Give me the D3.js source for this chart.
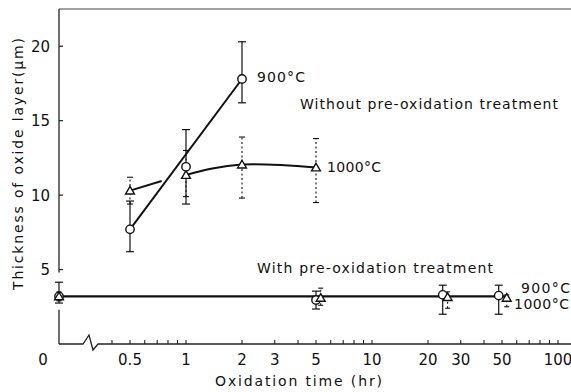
<!DOCTYPE html>
<html><head><meta charset="utf-8">
<script src="https://cdn.jsdelivr.net/npm/d3@7/dist/d3.min.js"></script>
<style>body{margin:0;background:#fff}text{font-family:"DejaVu Sans",sans-serif;fill:#111}</style>
</head><body><svg id="c" width="571" height="392"></svg>
<script>
// ---- data ----
const yTicks = [5, 10, 15, 20];
const xTickLabels = ["0.5", "1", "2", "3", "5", "10", "20", "30", "50", "100"];
const xMinorTicks = [0.4,0.5,0.6,0.7,0.8,0.9,1,2,3,4,5,6,7,8,9,10,20,30,40,50,60,70,80,90,100];

// Without pre-oxidation, 900°C (circles)
const tNo900 = [0.5, 1, 2];
const vNo900 = [7.7, 11.9, 17.8];
const loNo900 = [6.2, 9.4, 16.2];
const hiNo900 = [9.6, 14.4, 20.3];
const fitNo900 = [[0.5, 7.7], [2, 17.8]];

// Without pre-oxidation, 1000°C (triangles)
const tNo1000 = [0.5, 1, 2, 5];
const vNo1000 = [10.3, 11.35, 12.05, 11.85];
const loNo1000 = [9.4, 9.9, 9.8, 9.5];
const hiNo1000 = [11.2, 13.0, 13.9, 13.8];
const seg1No1000 = [[0.5, 10.3], [0.74, 10.95]];
const seg2No1000 = [[1, 11.35], [2, 12.05], [5, 11.85]];

// With pre-oxidation, 900°C (circles)
const tPre900 = [0, 5, 24, 48];
const vPre900 = [3.2, 2.95, 3.3, 3.25];
const loPre900 = [2.75, 2.35, 2.0, 2.0];
const hiPre900 = [4.15, 3.55, 3.95, 3.95];
// With pre-oxidation, 1000°C (triangles)
const tPre1000 = [0, 5.3, 25.5, 53];
const vPre1000 = [3.2, 3.1, 3.15, 3.1];
const loPre1000 = [2.9, 2.6, 2.4, 2.5];
const hiPre1000 = [3.5, 3.75, 3.5, 3.3];
const fitPre = [[0, 3.2], [53, 3.2]];

// ---- layout ----
const svg = d3.select("#c");
const x0 = 59, yBot = 344, yTop = 9, xRight = 571;
const y = d3.scaleLinear().domain([0, 22.5]).range([yBot, yTop]);
const xLog = d3.scaleLog().domain([1, 100]).range([186, 558]);
const X = t => t === 0 ? x0 : xLog(t);

const g = svg.append("g");
// frame
g.append("line").attr("x1", x0).attr("x2", xRight).attr("y1", yTop).attr("y2", yTop)
  .attr("stroke", "#444").attr("stroke-width", 1.2);
// left axis with gap around the t=0 point
g.append("line").attr("x1", x0).attr("x2", x0).attr("y1", yTop).attr("y2", y(4.8)).attr("stroke", "#222").attr("stroke-width", 1.3);
g.append("line").attr("x1", x0).attr("x2", x0).attr("y1", y(2.3)).attr("y2", yBot).attr("stroke", "#222").attr("stroke-width", 1.3);
// bottom axis with break
const bx1 = 83, bx2 = 98;
g.append("path").attr("fill", "none").attr("stroke", "#222").attr("stroke-width", 1.3)
  .attr("d", `M${x0},${yBot}L${bx1},${yBot}L${bx1+6},${yBot-9}L${bx1+10},${yBot+6}L${bx2},${yBot}L${xRight},${yBot}`);

// y ticks
yTicks.forEach(v => {
  g.append("line").attr("x1", x0).attr("x2", x0 + 4).attr("y1", y(v)).attr("y2", y(v)).attr("stroke", "#222").attr("stroke-width", 1.2);
  g.append("text").attr("x", x0 - 9).attr("y", y(v) + 5.5).attr("text-anchor", "end").attr("font-size", 15).text(v);
});
// x ticks
xMinorTicks.forEach(t => {
  g.append("line").attr("x1", xLog(t)).attr("x2", xLog(t)).attr("y1", yBot).attr("y2", yBot - 4).attr("stroke", "#222").attr("stroke-width", 1.1);
});
xTickLabels.forEach(s => {
  g.append("text").attr("x", xLog(+s)).attr("y", 365).attr("text-anchor", "middle").attr("font-size", 15).text(s);
});
g.append("text").attr("x", x0 - 16).attr("y", 365).attr("text-anchor", "middle").attr("font-size", 15).text("0");

// axis titles
g.append("text").attr("x", 215).attr("y", 386).attr("font-size", 14)
  .attr("textLength", 167).attr("lengthAdjust", "spacing").text("Oxidation time (hr)");
g.append("text").attr("transform", "translate(23,290) rotate(-90)").attr("font-size", 14)
  .attr("textLength", 252).attr("lengthAdjust", "spacing").text("Thickness of oxide layer(μm)");

// lines
const line = d3.line().x(d => X(d[0])).y(d => y(d[1]));
const lines = g.append("g").attr("fill", "none").attr("stroke", "#111");
lines.append("path").attr("d", line(fitNo900)).attr("stroke-width", 2);
lines.append("path").attr("d", line(seg1No1000)).attr("stroke-width", 2);
lines.append("path").attr("d", line.curve(d3.curveNatural)(seg2No1000)).attr("stroke-width", 2);
line.curve(d3.curveLinear);
lines.append("path").attr("d", line(fitPre)).attr("stroke-width", 2.4);

// error bars
function errBars(ts, lo, hi, cap, dashed) {
  ts.forEach((t, i) => {
    const cx = X(t);
    const e = g.append("g").attr("stroke", "#111").attr("stroke-width", dashed ? 1.1 : 1.2);
    e.append("line").attr("x1", cx).attr("x2", cx).attr("y1", y(lo[i])).attr("y2", y(hi[i]))
      .attr("stroke-dasharray", dashed ? "2,2.5" : null);
    [lo[i], hi[i]].forEach(v => e.append("line").attr("x1", cx - cap).attr("x2", cx + cap).attr("y1", y(v)).attr("y2", y(v)));
  });
}
errBars(tNo900, loNo900, hiNo900, 4, false);
errBars(tNo1000, loNo1000, hiNo1000, 3, true);
errBars(tPre900, loPre900, hiPre900, 4, false);
errBars(tPre1000, loPre1000, hiPre1000, 2.5, true);

// markers
const tri = d3.symbol().type(d3.symbolTriangle).size(34);
function triangles(ts, vs) {
  ts.forEach((t, i) => g.append("path").attr("d", tri()).attr("transform", `translate(${X(t)},${y(vs[i]) + 0.8})`)
    .attr("fill", "#fff").attr("stroke", "#111").attr("stroke-width", 1.4));
}
function circles(ts, vs) {
  ts.forEach((t, i) => g.append("circle").attr("cx", X(t)).attr("cy", y(vs[i])).attr("r", 4.2)
    .attr("fill", "#fff").attr("stroke", "#111").attr("stroke-width", 1.4));
}
triangles(tNo1000, vNo1000);
circles(tNo900, vNo900);
circles(tPre900, vPre900);
triangles(tPre1000, vPre1000);

// annotations
const ann = (x, yy, s, len) => {
  const t = g.append("text").attr("x", x).attr("y", yy).attr("font-size", 14).text(s);
  if (len) t.attr("textLength", len).attr("lengthAdjust", "spacing");
};
ann(257, 82, "900°C", 48);
ann(327, 172, "1000°C", 54);
ann(300, 109, "Without pre-oxidation treatment", 258);
ann(257, 273, "With pre-oxidation treatment", 236);
ann(521, 293, "900°C", 49);
ann(514, 309, "1000°C", 55);
</script></body></html>
